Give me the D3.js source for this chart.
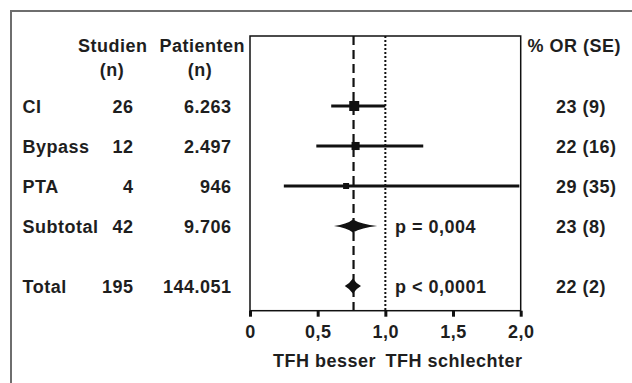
<!DOCTYPE html>
<html>
<head>
<meta charset="utf-8">
<script src="https://d3js.org/d3.v7.min.js"></script>
<style>
  body { margin: 0; background: #fff; }
  text { font-family: "Liberation Sans", Arial, sans-serif; font-weight: bold; fill: #1e1e1e; }
</style>
</head>
<body>
<svg id="chart"></svg>
<script>
// rows of the forest plot
var labels    = ["CI", "Bypass", "PTA", "Subtotal", "Total"];
var rowPos    = [0, 1, 2, 3, 4.5];
var studien   = ["26", "12", "4", "42", "195"];
var patienten = ["6.263", "2.497", "946", "9.706", "144.051"];
var patCount  = [6263, 2497, 946, 9706, 144051];
var orEst     = [0.77, 0.78, 0.71, 0.76, 0.76];
var ciLow     = [0.60, 0.49, 0.25, 0.62, 0.70];
var ciHigh    = [1.00, 1.28, 1.99, 0.94, 0.82];
var pctOR     = ["23 (9)", "22 (16)", "29 (35)", "23 (8)", "22 (2)"];
var pValues   = ["", "", "", "p = 0,004", "p < 0,0001"];
var isPooled  = [false, false, false, true, true];
var pooledOR  = 0.765;
var xTicks    = [0, 0.5, 1, 1.5, 2];

var width = 632, height = 383;
var fontSize = "18px", spacing = "0.5px";
var svg = d3.select("#chart").attr("width", width).attr("height", height);

// outer frame (cut off at right and bottom)
svg.append("path")
  .attr("d", "M11," + height + " L11,11 L" + width + ",11")
  .attr("fill", "none")
  .attr("stroke", "#6e6e6e")
  .attr("stroke-width", 2);

var plot = {left: 250, right: 520.7, top: 36, bottom: 310.7};

var x = d3.scaleLinear().domain([0, 2]).range([plot.left, plot.right]);
var y = d3.scaleLinear().domain([0, 4.5]).range([106, 286]);
var boxSize = d3.scaleLog().domain([946, 6263]).range([6, 10]);

// plot box
svg.append("rect")
  .attr("x", plot.left).attr("y", plot.top)
  .attr("width", plot.right - plot.left).attr("height", plot.bottom - plot.top)
  .attr("fill", "none").attr("stroke", "#111").attr("stroke-width", 1.5);

// reference lines
svg.append("line")
  .attr("x1", x(1)).attr("x2", x(1)).attr("y1", plot.top).attr("y2", plot.bottom)
  .attr("stroke", "#111").attr("stroke-width", 2).attr("stroke-dasharray", "2,2");

svg.append("line")
  .attr("x1", x(pooledOR)).attr("x2", x(pooledOR)).attr("y1", plot.top).attr("y2", plot.bottom)
  .attr("stroke", "#111").attr("stroke-width", 2.2).attr("stroke-dasharray", "9,5");

// x axis
var fmt = function(d) { return d === 0 ? "0" : d3.format(".1f")(d).replace(".", ","); };
var xAxis = svg.append("g")
  .attr("transform", "translate(0," + plot.bottom + ")")
  .call(d3.axisBottom(x).tickValues(xTicks).tickFormat(fmt).tickSize(6).tickSizeOuter(0).tickPadding(8.5));
xAxis.select(".domain").remove();
xAxis.selectAll("line").attr("stroke", "#111").attr("stroke-width", 3);
xAxis.selectAll("text")
  .style("font-size", fontSize).style("letter-spacing", spacing)
  .attr("fill", "#1e1e1e");

svg.append("text").attr("x", 376).attr("y", 367).attr("text-anchor", "end")
  .style("font-size", fontSize).style("letter-spacing", spacing).text("TFH besser");
svg.append("text").attr("x", 385.5).attr("y", 367)
  .style("font-size", fontSize).style("letter-spacing", spacing).text("TFH schlechter");

// headers
var header = svg.append("g").style("font-size", fontSize).style("letter-spacing", spacing);
header.append("text").attr("x", 147.5).attr("y", 52).attr("text-anchor", "end").text("Studien");
header.append("text").attr("x", 112).attr("y", 75.5).attr("text-anchor", "middle").text("(n)");
header.append("text").attr("x", 245).attr("y", 52).attr("text-anchor", "end").text("Patienten");
header.append("text").attr("x", 200).attr("y", 75.5).attr("text-anchor", "middle").text("(n)");
header.append("text").attr("x", 527.5).attr("y", 52).text("% OR (SE)");

// table columns
var rows = svg.append("g").style("font-size", fontSize).style("letter-spacing", spacing)
  .selectAll("g").data(labels).enter().append("g");

rows.append("text").attr("x", 22.5).attr("y", function(d, i) { return y(rowPos[i]) + 7; })
  .text(function(d) { return d; });
rows.append("text").attr("x", 133.5).attr("y", function(d, i) { return y(rowPos[i]) + 7; })
  .attr("text-anchor", "end").text(function(d, i) { return studien[i]; });
rows.append("text").attr("x", 231.5).attr("y", function(d, i) { return y(rowPos[i]) + 7; })
  .attr("text-anchor", "end").text(function(d, i) { return patienten[i]; });
rows.append("text").attr("x", 556).attr("y", function(d, i) { return y(rowPos[i]) + 7; })
  .text(function(d, i) { return pctOR[i]; });
rows.append("text").attr("x", 395).attr("y", function(d, i) { return y(rowPos[i]) + 7; })
  .text(function(d, i) { return pValues[i]; });

// study rows: CI line + square
labels.forEach(function(d, i) {
  var cy = y(rowPos[i]);
  if (!isPooled[i]) {
    svg.append("line")
      .attr("x1", x(ciLow[i])).attr("x2", x(ciHigh[i]))
      .attr("y1", cy).attr("y2", cy)
      .attr("stroke", "#111").attr("stroke-width", 3);
    var s = boxSize(patCount[i]);
    svg.append("rect")
      .attr("x", x(orEst[i]) - s / 2).attr("y", cy - s / 2)
      .attr("width", s).attr("height", s)
      .attr("fill", "#111");
  } else {
    // pooled estimate: diamond with concave sides
    var xl = x(ciLow[i]), xr = x(ciHigh[i]), xc = x(orEst[i]);
    var h = i === 3 ? 6.5 : 7.5;
    var k = Math.min(5, (xr - xl) * 0.08);
    var p = d3.path();
    p.moveTo(xl, cy);
    p.quadraticCurveTo((xl + xc) / 2 + k, cy - h / 2 + k * 0.5, xc, cy - h);
    p.quadraticCurveTo((xr + xc) / 2 - k, cy - h / 2 + k * 0.5, xr, cy);
    p.quadraticCurveTo((xr + xc) / 2 - k, cy + h / 2 - k * 0.5, xc, cy + h);
    p.quadraticCurveTo((xl + xc) / 2 + k, cy + h / 2 - k * 0.5, xl, cy);
    p.closePath();
    svg.append("path").attr("d", p.toString()).attr("fill", "#111");
  }
});
</script>
</body>
</html>
